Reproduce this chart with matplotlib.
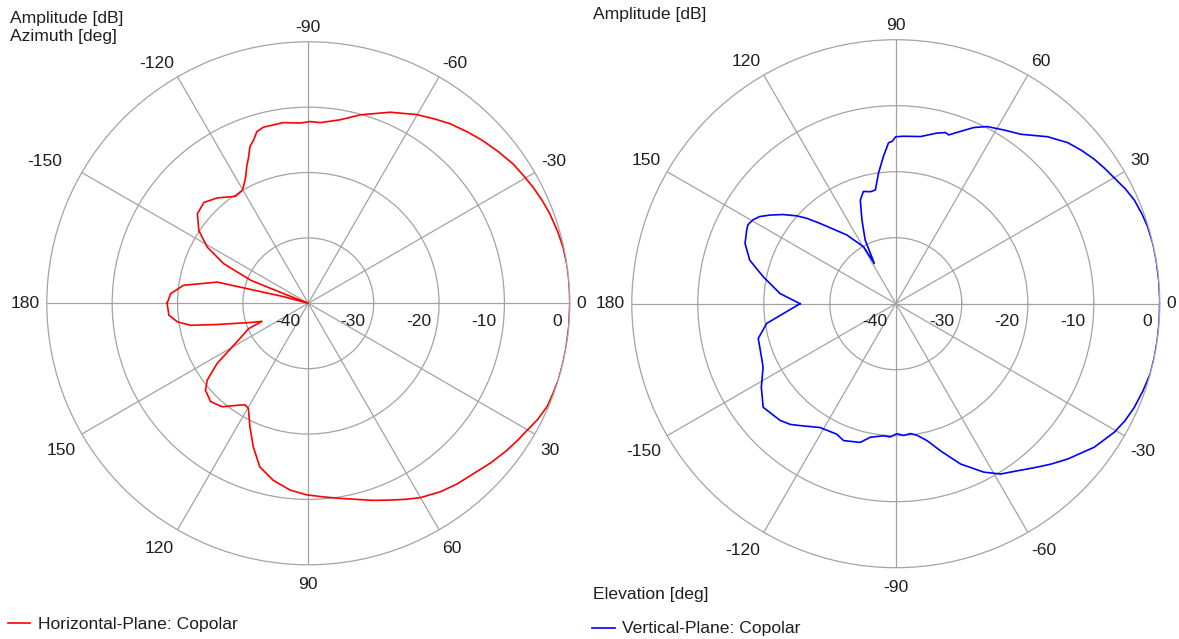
import numpy as np
import matplotlib
matplotlib.use("Agg")
import matplotlib.pyplot as plt
from matplotlib.lines import Line2D
from matplotlib import transforms

plt.rcParams['font.family'] = ['Liberation Sans', 'DejaVu Sans']

# ---------------- data ----------------
# Horizontal plane (azimuth, deg) -> amplitude (dB)
az_deg = [-180, -176, -171.8, -166.9, -165, -163, -160, -158.6, -158.2, -154.9,
          -150.9, -146.4, -141.1, -136, -130.8, -124.3, -120.4, -119.1, -116.5,
          -114.3, -112.3, -110.4, -108.6, -106.7, -104.3, -97.9, -92.5, -89.4,
          -86.2, -80.1, -74.6, -66.8, -60.1,
          -55.5, -51.7, -47, -42.9, -38.5, -34.2, -30.5, -27.3, -23.5, -20.3, -16,
          -12.4, -8.5, -5.8, -3, 0, 5, 10, 13.5, 17, 20, 23.4, 27, 30.1,
          33, 36.5, 41, 45.9, 50.5, 55, 60.1, 63.5, 67.4, 72, 76.1, 81, 85.6, 90.5,
          95.6, 101.2, 106.5, 111,
          115.3, 119.7, 121.9, 123.7, 129.8, 134.8, 139.8, 142.8, 146.6, 150.6,
          157, 158.7, 161.6, 166.9, 169.4, 171.9, 175.1, 180]
az_db = [-18.4, -18.9, -20.7, -25.7, -36, -40, -40, -36, -30.5, -25.7,
         -22.3, -19.9, -18.2, -17.8, -18.7, -20.2, -20.0, -19.6, -18.5,
         -17.1, -15.9, -14.4, -13.7, -12.6, -12.2, -12.1, -12.4, -12.2,
         -12.3, -11.5, -10.1, -8.2, -6.7,
         -5.8, -5.0, -4.2, -3.5, -2.8, -2.1, -1.7, -1.3, -0.9, -0.6, -0.3,
         -0.1, 0, 0, 0, 0, 0, 0, 0, 0, -0.1, -0.2, -0.7, -1.3,
         -1.7, -2.2, -2.9, -3.7, -4.2, -4.8, -5.7, -6.5, -7.4, -8.3, -9.1, -9.8, -10.3, -10.7,
         -11.3, -12.4, -13.9, -16.5,
         -19.1, -21.5, -21.7, -21.3, -19.4, -18.8, -19.4, -20.6, -23.3, -26.9,
         -30.1, -32.4, -30.7, -25.7, -21.7, -19.8, -18.6, -18.4]

# Vertical plane (elevation, deg) -> amplitude (dB)
el_deg = [-180, -175, -171.3, -165.8, -158.3, -154.4, -148.1, -142, -134.8, -131.2,
          -128.2, -121.5, -114.4, -110.9, -104.4, -100.8, -95.3, -92.4, -89.5,
          -86.6, -83.6, -80.8, -77.1, -73.1, -68, -62.4, -58.4, -54, -49.9, -46, -42.1,
          -35.9, -30.5, -27, -23.5, -19.5, -15.3, -11.5, -7.9, -4, 0.8, 5, 9.5, 13, 17,
          20, 23.5, 26.5, 29.9, 33, 36, 39.5, 43.1,
          47.7, 53.6, 58.1, 62.7, 66.1, 69.4, 72.6, 73.8, 76.4, 81.6, 87.3, 90,
          91.3, 92.6, 94.8, 97.5, 100.2, 102.8, 106.1, 108.9, 112, 115.7, 118.1,
          119.5, 125.5, 133.3, 136.2, 138.5, 141.7, 144.8, 147.4, 149.6, 151.9,
          153.7, 158.2, 163.4, 168.5, 175, 180]
el_db = [-25.5, -22.9, -20.2, -18.5, -18.1, -17.7, -16.0, -14.5, -15.1, -15.7,
         -16.5, -18.0, -18.3, -17.8, -18.3, -19.4, -19.9, -19.8, -20.3,
         -20.0, -20.2, -19.8, -18.7, -16.7, -13.8, -11.2, -9.7, -8.7, -7.5, -6.2, -4.9,
         -2.9, -1.6, -1.0, -0.6, -0.3, 0, 0, 0, 0, 0, 0, 0, 0, -0.1,
         -0.3, -0.6, -1.1, -1.8, -2.3, -2.8, -3.5, -4.3,
         -5.8, -8.1, -9.0, -9.8, -10.8, -12.1, -13.2, -13.0, -13.4, -14.4, -14.6, -14.7,
         -15.4, -15.6, -17.6, -20.0, -22.5, -22.6, -22.3, -23.4, -26.3, -29.3, -33.1,
         -30.1, -27.2, -23.3, -21.3, -19.9, -18.2, -16.7, -15.5, -14.9, -14.6,
         -14.8, -15.4, -16.9, -19.5, -22.4, -25.5]

ring_values = [-40, -30, -20, -10, 0]
angle_ticks = list(range(0, 360, 30))

# ---------------- figure ----------------
W, H = 1179, 639
fig = plt.figure(figsize=(W / 100, H / 100), dpi=100)
GRID = '#a3a3a3'
TXT = '#1e1e1e'
FS = 12.6


def make_polar(cx, cy, R, direction, nudges):
    ax = fig.add_axes([(cx - R) / W, (H - cy - R) / H, 2 * R / W, 2 * R / H],
                      projection='polar')
    ax.set_theta_zero_location('E')
    ax.set_theta_direction(direction)
    ax.set_rlim(-40, 0)
    ax.set_rticks(ring_values[1:-1])
    ax.set_yticklabels([])
    ax.set_xticks(np.deg2rad(angle_ticks))
    ax.set_xticklabels([])
    ax.tick_params(length=0)
    ax.grid(True, color=GRID, lw=0.9)
    ax.spines['polar'].set_color(GRID)
    ax.spines['polar'].set_linewidth(0.9)
    # radial labels
    tr = transforms.offset_copy(ax.transAxes, fig=fig, x=-8, y=-18, units='dots')
    for v in ring_values:
        ax.text(0.5 + 0.5 * (v + 40) / 40, 0.5, f"{v}", transform=tr,
                ha='right', va='center', fontsize=FS, color=TXT)
    # angle labels
    g = 7 / (2 * R)
    for a in angle_ticks:
        val = a if a <= 180 else a - 360
        phi = np.deg2rad(a * direction)
        c, s = np.cos(phi), np.sin(phi)
        x = 0.5 + (0.5 + g) * c
        y = 0.5 + (0.5 + g) * s
        ha = 'left' if c > 0.2 else ('right' if c < -0.2 else 'center')
        va = 'bottom' if s > 0.2 else ('top' if s < -0.2 else 'center')
        dx, dy = nudges.get(val, (0, 0))
        if va == 'top':
            dy -= 5
        t = transforms.offset_copy(ax.transAxes, fig=fig, x=dx, y=dy, units='dots')
        ax.text(x, y, f"{val}", transform=t, ha=ha, va=va,
                fontsize=FS, color=TXT, clip_on=False)
    return ax


axL = make_polar(308.3, 303.3, 261.5, -1, {-150: (-14, 0)})
axL.plot(np.deg2rad(az_deg), np.clip(az_db, -40, 0), color='#ff0000', lw=1.2)

axR = make_polar(895.8, 303.7, 264, 1, {})
axR.plot(np.deg2rad(el_deg), np.clip(el_db, -40, 0), color='#0000ff', lw=1.2)

# captions
fig.text(10 / W, 1 - 18 / H, "Amplitude [dB]", ha='left', va='center', fontsize=FS, color=TXT)
fig.text(10 / W, 1 - 37 / H, "Azimuth [deg]", ha='left', va='center', fontsize=FS, color=TXT)
fig.text(593 / W, 1 - 15 / H, "Amplitude [dB]", ha='left', va='center', fontsize=FS, color=TXT)
fig.text(593 / W, 1 - 595 / H, "Elevation [deg]", ha='left', va='center', fontsize=FS, color=TXT)

# legends
fig.add_artist(Line2D([8 / W, 30 / W], [1 - 623 / H] * 2, color='#ff0000', lw=1.2))
fig.text(38 / W, 1 - 625 / H, "Horizontal-Plane: Copolar", ha='left', va='center',
         fontsize=FS, color=TXT)
fig.add_artist(Line2D([592 / W, 615 / W], [1 - 628 / H] * 2, color='#0000ff', lw=1.2))
fig.text(622 / W, 1 - 628 / H, "Vertical-Plane: Copolar", ha='left', va='center',
         fontsize=FS, color=TXT)

fig.savefig("out.png", dpi=100, facecolor='white')
